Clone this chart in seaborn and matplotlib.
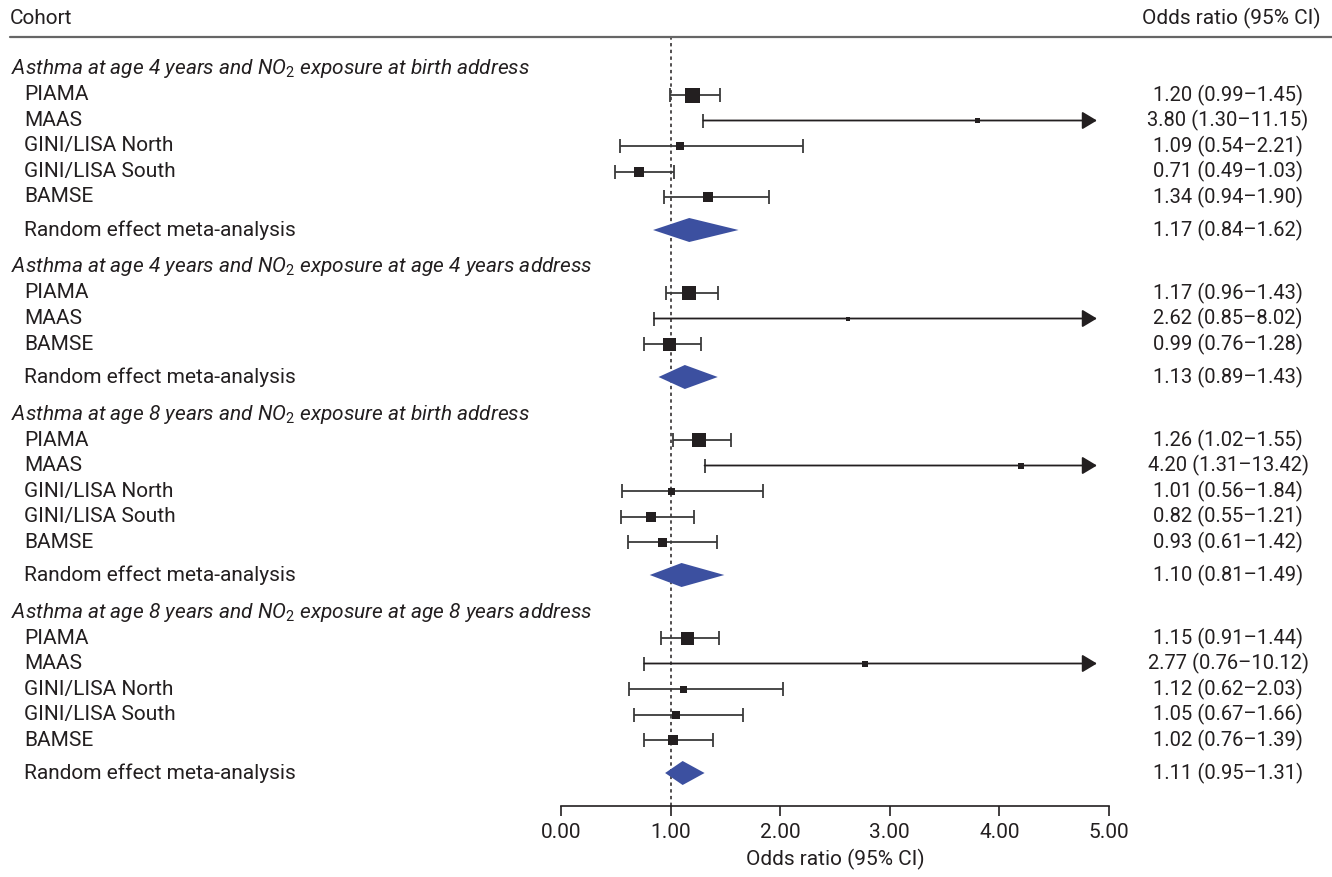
import numpy as np
import pandas as pd
import matplotlib
matplotlib.use("Agg")
from matplotlib import pyplot as plt
from matplotlib.lines import Line2D
from matplotlib.transforms import blended_transform_factory
import seaborn as sns

# ---- data ----
group_titles = [
    "Asthma at age 4 years and NO$_2$ exposure at birth address",
    "Asthma at age 4 years and NO$_2$ exposure at age 4 years address",
    "Asthma at age 8 years and NO$_2$ exposure at birth address",
    "Asthma at age 8 years and NO$_2$ exposure at age 8 years address",
]
cohorts = [
    ["PIAMA", "MAAS", "GINI/LISA North", "GINI/LISA South", "BAMSE"],
    ["PIAMA", "MAAS", "BAMSE"],
    ["PIAMA", "MAAS", "GINI/LISA North", "GINI/LISA South", "BAMSE"],
    ["PIAMA", "MAAS", "GINI/LISA North", "GINI/LISA South", "BAMSE"],
]
odds = [
    [1.20, 3.80, 1.09, 0.71, 1.34],
    [1.17, 2.62, 0.99],
    [1.26, 4.20, 1.01, 0.82, 0.93],
    [1.15, 2.77, 1.12, 1.05, 1.02],
]
ci_low = [
    [0.99, 1.30, 0.54, 0.49, 0.94],
    [0.96, 0.85, 0.76],
    [1.02, 1.31, 0.56, 0.55, 0.61],
    [0.91, 0.76, 0.62, 0.67, 0.76],
]
ci_high = [
    [1.45, 11.15, 2.21, 1.03, 1.90],
    [1.43, 8.02, 1.28],
    [1.55, 13.42, 1.84, 1.21, 1.42],
    [1.44, 10.12, 2.03, 1.66, 1.39],
]
# study weight shown as box size (px)
box_px = [
    [15, 5, 8, 10, 10],
    [14, 4, 13],
    [14, 6, 7, 10, 9],
    [13, 6, 7, 8, 10],
]
meta_label = "Random effect meta-analysis"
meta_or = [1.17, 1.13, 1.10, 1.11]
meta_low = [0.84, 0.89, 0.81, 0.95]
meta_high = [1.62, 1.43, 1.49, 1.31]

# ---- layout / style ----
W, H = 1332, 877
TXT = "#231f20"
LINE = "#3a3a3a"
BLUE = "#3c50a0"
FS = 15
FS_RIGHT = 14.5
XMAX = 5.0
ARROW_END = 4.89

sns.set_theme(style="white")
plt.rcParams["font.family"] = ["Roboto", "DejaVu Sans"]
plt.rcParams["mathtext.fontset"] = "custom"
plt.rcParams["mathtext.it"] = "Roboto:italic"
plt.rcParams["mathtext.rm"] = "Roboto"

# row positions (pixel-like units, top = 37, axis = 806)
rows = []
y = 69
for g in range(len(group_titles)):
    rows.append(dict(kind="title", y=y, label=group_titles[g]))
    y += 26
    for i, name in enumerate(cohorts[g]):
        rows.append(dict(kind="study", y=y, label=name, est=odds[g][i],
                         lo=ci_low[g][i], hi=ci_high[g][i], box=box_px[g][i]))
        y += 25.5
    y += 7.5
    rows.append(dict(kind="meta", y=y, label=meta_label, est=meta_or[g],
                     lo=meta_low[g], hi=meta_high[g]))
    y += 37
df = pd.DataFrame(rows)
st = df[df.kind == "study"].reset_index(drop=True)
me = df[df.kind == "meta"].reset_index(drop=True)

fig = plt.figure(figsize=(W / 100, H / 100), dpi=100)
ax = fig.add_axes([561 / W, (H - 806) / H, 548 / W, (806 - 37) / H])
ax.set_xlim(0, XMAX)
ax.set_ylim(806, 37)

# reference line at OR = 1
ax.axvline(1, color=TXT, lw=1.1, ls=(0, (2.2, 2.2)), zorder=1)

# confidence intervals
inside = st[st.hi <= XMAX]
ax.errorbar(inside.est, inside.y,
            xerr=[inside.est - inside.lo, inside.hi - inside.est],
            fmt="none", ecolor=LINE, elinewidth=1.3, capsize=5, capthick=1.3, zorder=2)
outside = st[st.hi > XMAX]
for _, r in outside.iterrows():
    ax.plot([r.lo], [r.y], marker="|", markersize=10, mew=1.3, color=LINE, zorder=2)
    ax.annotate("", xy=(ARROW_END, r.y), xytext=(r.lo, r.y),
                arrowprops=dict(arrowstyle="-|>,head_length=0.75,head_width=0.45",
                                lw=1.3, color=TXT, shrinkA=0, shrinkB=0), zorder=2)

# study boxes
sns.scatterplot(data=st, x="est", y="y", marker="s", color=TXT, linewidth=0,
                s=(st.box * 0.72) ** 2, legend=False, ax=ax, zorder=3)

# meta-analysis diamonds
for _, r in me.iterrows():
    ax.fill([r.lo, r.est, r.hi, r.est], [r.y, r.y - 12, r.y, r.y + 12],
            color=BLUE, lw=0, zorder=3)

# axis styling
sns.despine(ax=ax, left=True, top=True, right=True)
ax.set_yticks([])
ax.set_xticks(np.arange(0, 6))
ax.set_xticklabels([f"{v:.2f}" for v in np.arange(0, 6)])
ax.tick_params(axis="x", direction="out", length=7, width=1.2, color=TXT,
               labelsize=FS, labelcolor=TXT, pad=5, bottom=True)
ax.spines["bottom"].set_color(TXT)
ax.spines["bottom"].set_linewidth(1.2)
ax.set_xlabel("Odds ratio (95% CI)", fontsize=FS, color=TXT, labelpad=5)
ax.set_ylabel("")

# left and right text columns
tr = blended_transform_factory(fig.transFigure, ax.transData)
for _, r in df.iterrows():
    if r.kind == "title":
        ax.text(11 / W, r.y, r.label, transform=tr, fontsize=FS, style="italic",
                color=TXT, va="center", ha="left")
    else:
        ax.text(24 / W, r.y, r.label, transform=tr, fontsize=FS, color=TXT,
                va="center", ha="left")
        ax.text(1228 / W, r.y, f"{r.est:.2f} ({r.lo:.2f}–{r.hi:.2f})", transform=tr,
                fontsize=FS_RIGHT, color=TXT, va="center", ha="center")

# header
fig.text(10 / W, 1 - 18 / H, "Cohort", fontsize=FS, color=TXT, va="center", ha="left")
fig.text(1321 / W, 1 - 18 / H, "Odds ratio (95% CI)", fontsize=FS, color=TXT,
         va="center", ha="right")
fig.add_artist(Line2D([10 / W, 1], [1 - 37 / H, 1 - 37 / H], color="#666666", lw=1.6))

fig.savefig("out.png", dpi=100)
